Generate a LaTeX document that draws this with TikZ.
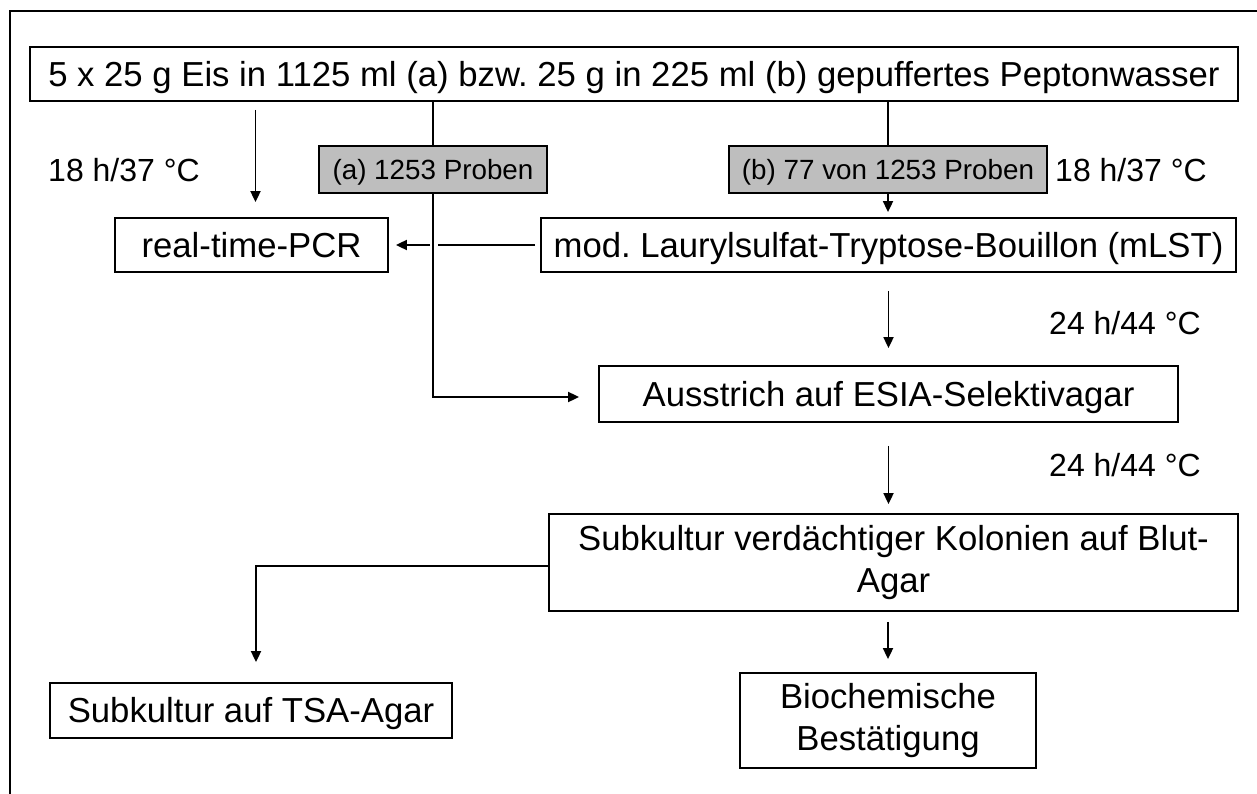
\documentclass[tikz,border=0pt]{standalone}
\usepackage{fontspec}
\setmainfont{Liberation Sans}
\usetikzlibrary{arrows.meta,calc}
\definecolor{boxgray}{RGB}{190,190,190}
\frenchspacing
\begin{document}
\begin{tikzpicture}[x=1pt,y=-1pt,
  box/.style={draw, line width=1.8pt, inner sep=0pt, font=\fontsize{34.7}{42}\selectfont},
  twobox/.style={box, align=center},
  onebox/.style={box, text height=24.8pt, text depth=0pt},
  gbox/.style={box, fill=boxgray, font=\fontsize{27.8}{32}\selectfont, text height=19.9pt, text depth=0pt},
  lbl/.style={inner sep=0pt, font=\fontsize{32}{38}\selectfont, text height=22.9pt, text depth=0pt},
  arr/.style={-{Triangle[length=11pt,width=10pt]}, line width=1.8pt},
  ln/.style={line width=1.8pt}]
\clip (0,0) rectangle (1257,794);
\fill[white] (0,0) rectangle (1257,794);
\draw[line width=1.8pt] (10,11) rectangle (1280,820);

\node[onebox, minimum width=1208pt, minimum height=54pt] (top) at (634,74)
  {5 x 25 g Eis in 1125 ml (a) bzw. 25 g in 225 ml (b) gepuffertes Peptonwasser};
\node[gbox, minimum width=228pt, minimum height=47pt] (a) at (433,169.5) {(a) 1253 Proben};
\node[gbox, minimum width=318pt, minimum height=47pt] (b) at (888,169.5) {(b) 77 von 1253 Proben};
\node[onebox, minimum width=273pt, minimum height=54pt] (pcr) at (251.5,245) {real-time-PCR};
\node[onebox, minimum width=695pt, minimum height=54pt] (mlst) at (888.5,245) {mod. Laurylsulfat-Tryptose-Bouillon (mLST)};
\node[onebox, minimum width=579pt, minimum height=56pt] (ausstrich) at (888.5,394) {Ausstrich auf ESIA-Selektivagar};
\node[twobox, minimum width=689pt, minimum height=97pt] (subk) at (893.5,562.5) {Subkultur verdächtiger Kolonien auf Blut-\\Agar};
\node[onebox, minimum width=402pt, minimum height=55pt] (tsa) at (251,710.5) {Subkultur auf TSA-Agar};
\node[twobox, minimum width=296pt, minimum height=95pt] (bio) at (888,720.5) {Biochemische\\Bestätigung};

\node[lbl] (l1) at (124,170) {18 h/37 °C};
\node[lbl] (l2) at (1131,170) {18 h/37 °C};
\node[lbl] (l3) at (1125,323) {24 h/44 °C};
\node[lbl] (l4) at (1125,465) {24 h/44 °C};

\draw[arr, shorten <=8pt, shorten >=15pt] ($(top.south -| pcr)+(4,0)$) -- ($(pcr.north)+(4,0)$);
\draw[ln] (top.south -| a) -- (a.north);
\draw[arr, shorten >=19pt] (a.south) |- ($(ausstrich.west)+(0,3)$);
\draw[ln] (top.south -| b) -- (b.north);
\draw[arr, shorten >=5pt] (b.south) -- (b.south |- mlst.north);
\coordinate (gr) at ($(a.south |- mlst.west)+(5,0)$);
\coordinate (gl) at ($(a.south |- mlst.west)+(-3,0)$);
\draw[ln, shorten <=5pt] (mlst.west) -- (gr);
\draw[arr, shorten >=7pt] (gl) -- (pcr.east);
\draw[arr, shorten <=18pt, shorten >=17pt] (mlst.south) -- (ausstrich.north);
\draw[arr, shorten <=23pt, shorten >=9pt] (ausstrich.south) -- (ausstrich.south |- subk.north);
\draw[arr, shorten >=20pt] ($(subk.west)+(0,3.5)$) -| ($(tsa.north)+(5,0)$);
\draw[arr, shorten <=10pt, shorten >=13pt] (subk.south -| bio) -- (bio.north);
\end{tikzpicture}
\end{document}
